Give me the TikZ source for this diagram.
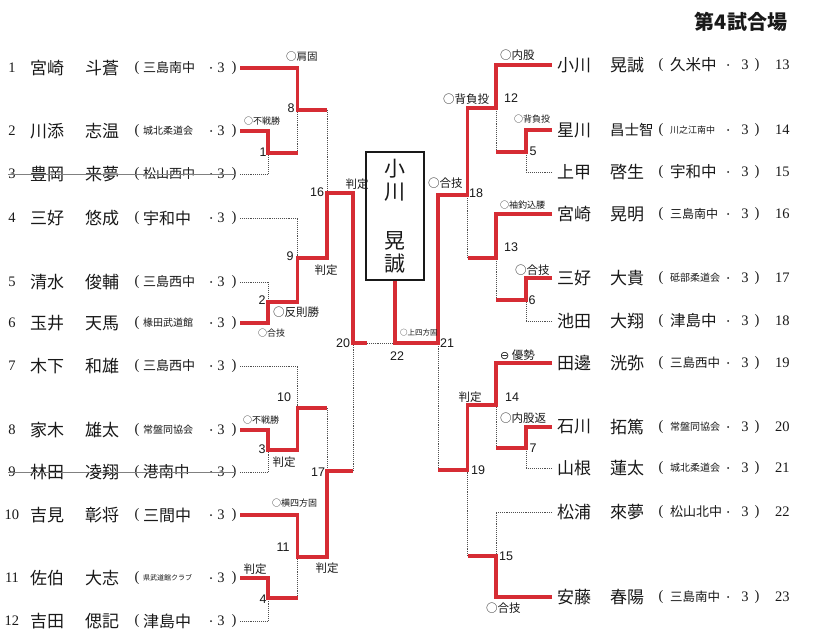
\documentclass[tikz,border=0pt]{standalone}
\usepackage{fontspec}
\setmainfont{Liberation Serif}
\newfontfamily\jp{Noto Sans CJK JP}
\newfontfamily\lsans{Liberation Sans}
\newfontfamily\dv{DejaVu Sans}
\newcommand\fsz[1]{\fontsize{#1}{#1}\selectfont}
\definecolor{myred}{RGB}{214,44,52}
\definecolor{dotg}{RGB}{80,80,80}
\definecolor{ink}{RGB}{25,25,25}
\tikzset{
  redl/.style={draw=myred, line width=3.6pt, line join=miter},
  dotl/.style={draw=dotg, line width=0.9pt, densely dotted},
  txt/.style={inner sep=0pt, outer sep=0pt, text=ink},
  nm/.style={txt, font=\jp\fsz{17}, anchor=west},
  num/.style={txt, font=\fsz{14.5}},
  sch/.style={txt, anchor=west},
  lab/.style={txt, font=\jp\fsz{11.5}},
  slab/.style={txt, font=\jp\fsz{9}},
  tlab/.style={txt, font=\jp\fsz{7.5}},
  mn/.style={txt, font=\lsans\fsz{12.5}},
  mdot/.style={fill=ink, circle, inner sep=0pt, minimum size=2pt},
}
% left entry: idx, y, surname, given, school, school size
\newcommand\LE[6]{%
  \node[num] (ln#1) at (12,#2) {#1};
  \node[nm] (ls#1) at (30,#2) {#3};
  \node[nm] (lg#1) at (85,#2) {#4};
  \node[num] (lo#1) at (137,#2) {(};
  \node[sch,font=\jp\fsz{#6}] (lk#1) at (143,#2) {#5};
  \node[mdot] (ld#1) at (211,#2) {};
  \node[num] (lt#1) at (221,#2) {3};
  \node[num] (lc#1) at (234,#2) {)};
  \coordinate (le#1) at (240,#2);
}
% right entry
\newcommand\RE[6]{%
  \node[nm] (rs#1) at (557,#2) {#3};
  \node[nm] (rg#1) at (610,#2) {#4};
  \node[num] (ro#1) at (661,#2) {(};
  \node[sch,font=\jp\fsz{#6}] (rk#1) at (670,#2) {#5};
  \node[mdot] (rd#1) at (728,#2) {};
  \node[num] (rt#1) at (745,#2) {3};
  \node[num] (rc#1) at (757,#2) {)};
  \node[num,anchor=west] (rn#1) at (775,#2) {#1};
  \coordinate (re#1) at (552,#2);
}
\begin{document}
\begin{tikzpicture}[x=1pt,y=-1pt]
\fill[white] (0,0) rectangle (827,644);
\path[use as bounding box] (0,0) rectangle (827,644);

% title
\node[txt,font=\jp\bfseries\fsz{20}] (title) at (741,22) {第4試合場};

% left entries
\LE{1}{68}{宮崎}{斗蒼}{三島南中}{13}
\LE{2}{131}{川添}{志温}{城北柔道会}{10}
\LE{3}{174}{豊岡}{来夢}{松山西中}{13}
\LE{4}{218}{三好}{悠成}{宇和中}{16}
\LE{5}{282}{清水}{俊輔}{三島西中}{13}
\LE{6}{323}{玉井}{天馬}{椽田武道館}{10}
\LE{7}{366}{木下}{和雄}{三島西中}{13}
\LE{8}{430}{家木}{雄太}{常盤同協会}{10}
\LE{9}{472}{林田}{凌翔}{港南中}{15.5}
\LE{10}{515}{吉見}{彰将}{三間中}{16}
\LE{11}{578}{佐伯}{大志}{県武道館クラブ}{7}
\LE{12}{621}{吉田}{偲記}{津島中}{16}

\draw[gray, line width=0.8pt] (ln3.west) -- (lc3.east |- ln3.west);
\draw[gray, line width=0.8pt] (ln9.west) -- (lc9.east |- ln9.west);

% right entries
\RE{13}{65}{小川}{晃誠}{久米中}{15.5}
\RE{14}{130}{星川}{{\fsz{14.5}昌士智}}{川之江南中}{9}
\RE{15}{172}{上甲}{啓生}{宇和中}{15.5}
\RE{16}{214}{宮崎}{晃明}{三島南中}{12}
\RE{17}{278}{三好}{大貴}{砥部柔道会}{10}
\RE{18}{321}{池田}{大翔}{津島中}{15.5}
\RE{19}{363}{田邊}{洸弥}{三島西中}{12.5}
\RE{20}{427}{石川}{拓篤}{常盤同協会}{10}
\RE{21}{468}{山根}{蓮太}{城北柔道会}{10}
\RE{22}{512}{松浦}{來夢}{松山北中}{13}
\RE{23}{597}{安藤}{春陽}{三島南中}{12.5}

% winner box
\node[draw=ink, line width=2pt, minimum width=58pt, minimum height=128pt, inner sep=0pt] (box) at (395,216) {};
\node[txt,font=\jp\fsz{21}] (w1) at (395,169) {小};
\node[txt,font=\jp\fsz{21}] (w2) at (395,192) {川};
\node[txt,font=\jp\fsz{21}] (w3) at (395,241) {晃};
\node[txt,font=\jp\fsz{21}] (w4) at (395,264) {誠};

% match junctions
\coordinate (m1) at (268,153);
\coordinate (m2) at (268,302);
\coordinate (m3) at (268,450);
\coordinate (m4) at (268,598);
\coordinate (m8) at (297.5,110);
\coordinate (m9) at (297.5,258);
\coordinate (m10) at (297.5,408);
\coordinate (m11) at (297.5,557);
\coordinate (m16) at (327,193);
\coordinate (m17) at (327,471);
\coordinate (m20) at (353,343);
\coordinate (m20e) at (367,343);
\coordinate (m22) at (395,343);
\coordinate (m21) at (438,343);
\coordinate (m18) at (467.5,195);
\coordinate (m19) at (467.5,470);
\coordinate (m12) at (496,108);
\coordinate (m13) at (496,258);
\coordinate (m14) at (496,405);
\coordinate (m15) at (496,556);
\coordinate (m5) at (526,152);
\coordinate (m6) at (526,300);
\coordinate (m7) at (526,448);

% dotted (losers)
\draw[dotl] (m8 -| m16) -- (m16);
\draw[dotl] (m1 -| m8) -- (m8);
\draw[dotl] (le3) -| (m1);
\draw[dotl] (le4) -| (m9);
\draw[dotl] (le5) -| (m2);
\draw[dotl] (m20e) -- (m22);
\draw[dotl] (le7) -| (m10);
\draw[dotl] (m10 -| m17) -- (m17);
\draw[dotl] (le9) -| (m3);
\draw[dotl] (m17 -| m20) -- (m20);
\draw[dotl] (m4 -| m11) -- (m11);
\draw[dotl] (le12) -| (m4);
\draw[dotl] (m5 -| m12) -- (m12);
\draw[dotl] (re15) -| (m5);
\draw[dotl] (m13 -| m18) -- (m18);
\draw[dotl] (m6 -| m13) -- (m13);
\draw[dotl] (re18) -| (m6);
\draw[dotl] (m19 -| m21) -- (m21);
\draw[dotl] (m7 -| m14) -- (m14);
\draw[dotl] (re21) -| (m7);
\draw[dotl] (re22) -| (m15);
\draw[dotl] (m15 -| m19) -- (m19);

% red (winners)
\draw[redl] (le1) -| (m8) -- (m8 -| m16);
\draw[redl] (le2) -| (m1) -- (m1 -| m8);
\draw[redl] (le6) -| (m2) -- (m2 -| m9) -- (m9) -- (m9 -| m16) -- (m16) -- (m16 -| m20) -- (m20) -- (m20e);
\draw[redl] (le8) -| (m3) -- (m3 -| m10) -- (m10) -- (m10 -| m17);
\draw[redl] (le10) -| (m11) -- (m11 -| m17) -- (m17) -- (m17 -| m20);
\draw[redl] (le11) -| (m4) -- (m4 -| m11);
\draw[redl] (box.south) -- (m22) -- (m21) -- (m18 -| m21) -- (m18) -- (m12 -| m18) -- (m12) -- (re13 -| m12) -- (re13);
\draw[redl] (re14) -| (m5) -- (m5 -| m12);
\draw[redl] (re16) -| (m13) -- (m13 -| m18);
\draw[redl] (re17) -| (m6) -- (m6 -| m13);
\draw[redl] (re19) -| (m14) -- (m14 -| m19) -- (m19) -- (m19 -| m21);
\draw[redl] (re20) -| (m7) -- (m7 -| m14);
\draw[redl] (re23) -| (m15) -- (m15 -| m19);

% left labels
\node[lab,font=\jp\fsz{10.5},anchor=west] (t1) at (286,57) {○肩固};
\node[mn] (n8) at (291,108) {8};
\node[slab,anchor=west] (t2) at (244,121) {○不戦勝};
\node[mn] (n1) at (263,152) {1};
\node[mn] (n16) at (317,192) {16};
\node[lab] (t3) at (357,184) {判定};
\node[mn] (n9) at (290,256) {9};
\node[lab] (t4) at (326,270) {判定};
\node[mn] (n2) at (262,300) {2};
\node[lab,anchor=west] (t5) at (273,312) {○反則勝};
\node[slab,anchor=west] (t6) at (258,333) {○合技};
\node[mn] (n20) at (343,343) {20};
\node[mn] (n10) at (284,397) {10};
\node[slab,anchor=west] (t7) at (243,420) {○不戦勝};
\node[mn] (n3) at (262,449) {3};
\node[lab] (t8) at (284,462) {判定};
\node[mn] (n17) at (318,472) {17};
\node[slab,anchor=west] (t9) at (272,503) {○横四方固};
\node[mn] (n11) at (283,547) {11};
\node[lab] (t10) at (327,568) {判定};
\node[lab] (t11) at (255,569) {判定};
\node[mn] (n4) at (263,599) {4};

% centre labels
\node[tlab,anchor=west] (t12) at (400,333) {○上四方固};
\node[mn] (n22) at (397,356) {22};
\node[mn] (n21) at (447,343) {21};
\node[lab,anchor=west] (t13) at (428,183) {○合技};
\node[mn] (n18) at (476,193) {18};

% right labels
\node[lab,anchor=west] (t14) at (500,55) {○内股};
\node[mn] (n12) at (511,98) {12};
\node[lab,anchor=west] (t15) at (443,99) {○背負投};
\node[slab,anchor=west] (t16) at (514,119) {○背負投};
\node[mn] (n5) at (533,151) {5};
\node[slab,anchor=west] (t17) at (500,205) {○袖釣込腰};
\node[mn] (n13) at (511,247) {13};
\node[lab,anchor=west] (t18) at (515,270) {○合技};
\node[mn] (n6) at (532,300) {6};
\node[lab,anchor=west] (t19) at (500,355) {{\dv\fsz{11}⊖}\ 優勢};
\node[lab] (t20) at (470,397) {判定};
\node[mn] (n14) at (512,397) {14};
\node[lab,anchor=west] (t21) at (500,418) {○内股返};
\node[mn] (n7) at (533,448) {7};
\node[mn] (n19) at (478,470) {19};
\node[mn] (n15) at (506,556) {15};
\node[lab,anchor=west] (t22) at (486,608) {○合技};
\end{tikzpicture}
\end{document}
